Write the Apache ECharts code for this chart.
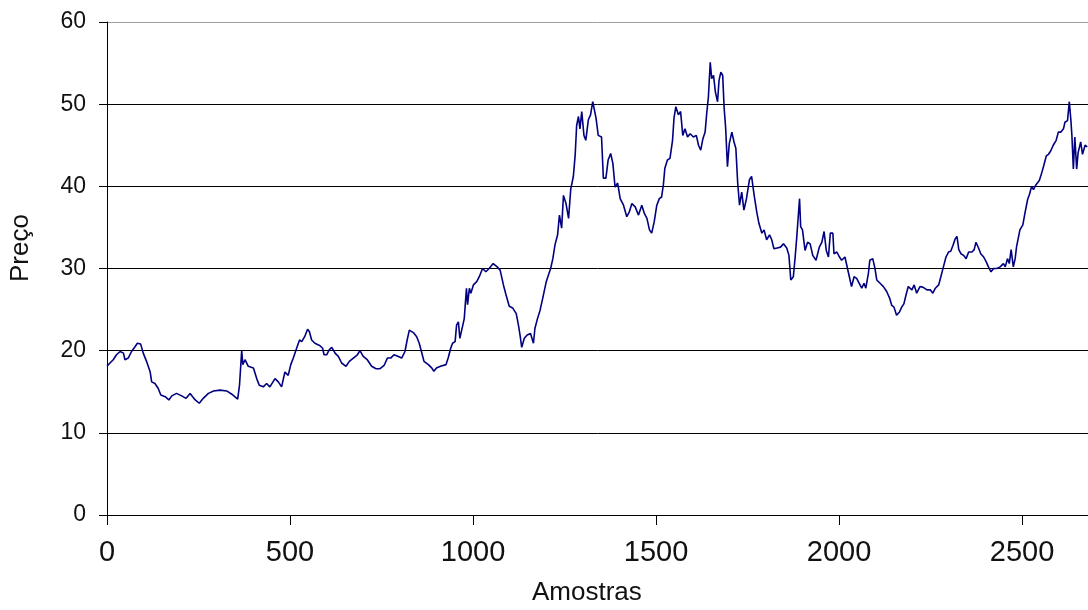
<!DOCTYPE html>
<html>
<head>
<meta charset="utf-8">
<script src="https://cdn.jsdelivr.net/npm/echarts@6/dist/echarts.min.js"></script>
<style>
html,body{margin:0;padding:0;background:#fff;}
#chart{width:1088px;height:610px;}
</style>
</head>
<body>
<div id="chart"></div>
<script>
// Sample index (x) and price (y)
const samples = [0,8,17,26,36,45,49,58,67,77,83,92,99,108,118,122,131,140,147,159,169,177,190,204,216,227,241,252,263,277,291,309,327,341,357,362,368,371,377,386,400,409,416,427,436,
445,459,468,477,486,495,502,509,518,526,532,540,548,553,559,568,582,589,593,600,607,614,623,632,641,653,662,673,684,691,700,711,723,735,746,757,766,775,784,796,805,814,820,826,837,846,853,859,866,878,887,893,900,911,
926,932,939,944,951,955,960,964,969,976,982,985,990,994,1001,1010,1017,1026,1035,1044,1055,1066,1074,1083,1090,1099,1108,1118,1124,1129,1133,1140,1148,1157,1165,1169,1176,1183,1190,1200,1206,1212,1218,1224,1231,1236,1242,1247,1254,1261,1267,1274,1279,1283,1288,1292,1297,1303,1308,1315,1321,1327,1330,1336,1342,1351,1356,1363,1369,1376,
1382,1388,1395,1402,1411,1420,1427,1434,1443,1452,1461,1468,1475,1482,1488,1495,1502,1509,1515,1520,1524,1531,1538,1545,1549,1554,1561,1567,1573,1579,1586,1593,1602,1610,1616,1622,1628,1634,1638,1643,1648,1652,1657,1662,1668,1672,1677,1682,1686,1690,1695,1700,1707,1713,1718,1723,1728,1734,1740,1747,1755,1761,1768,1775,1781,1789,1795,1802,1810,1816,1822,1831,
1840,1848,1857,1863,1868,1875,1880,1884,1889,1892,1895,1900,1907,1914,1921,1928,1937,1946,1953,1959,1965,1971,1976,1983,1986,1994,2001,2007,2016,2023,2028,2034,2041,2048,2055,2062,2068,2073,2080,2084,2092,2098,2103,2112,2121,2130,2138,2144,2150,2157,2165,2171,2177,2183,2189,2199,2205,2212,2221,2230,2240,2249,2256,2263,2272,2278,2285,2292,2299,
2305,2311,2317,2322,2327,2333,2340,2347,2354,2363,2369,2374,2381,2387,2395,2402,2408,2415,2422,2431,2440,2449,2454,2460,2465,2470,2476,2481,2485,2490,2494,2502,2508,2515,2520,2526,2531,2538,2547,2554,2559,2566,2572,2578,2585,2593,2599,2606,2613,2617,2624,2629,2633,2636,2640,2644,2649,2653,2660,2665,2672,2678];

const prices = [18.1,18.5,18.9,19.5,19.9,19.7,18.9,19.1,19.9,20.5,20.9,20.8,19.7,18.7,17.4,16.2,16.0,15.4,14.6,14.4,14.0,14.5,14.8,14.5,14.2,14.8,14.0,13.6,14.2,14.8,15.1,15.2,15.1,14.7,14.1,15.8,20.0,18.3,18.9,18.1,17.9,16.6,15.8,15.6,16.0,
15.6,16.6,16.2,15.6,17.4,17.0,18.3,19.1,20.3,21.3,21.1,21.7,22.6,22.3,21.3,20.9,20.6,20.3,19.5,19.5,20.1,20.4,19.7,19.3,18.5,18.1,18.7,19.1,19.5,20.0,19.3,18.9,18.1,17.8,17.8,18.2,19.1,19.1,19.5,19.3,19.1,19.9,21.3,22.5,22.2,21.7,20.9,19.9,18.7,18.3,17.9,17.5,17.9,18.1,
18.3,19.1,20.3,20.9,21.1,23.1,23.5,21.5,21.3,23.9,27.6,25.6,27.6,27.0,28.0,28.4,29.0,30.0,29.6,30.0,30.6,30.2,29.8,28.0,26.8,25.4,25.2,24.5,23.1,21.7,20.4,21.5,21.9,22.1,20.9,22.7,23.9,24.9,26.3,28.4,29.2,30.0,31.2,32.9,34.1,36.5,34.9,38.9,37.9,36.1,39.7,41.2,43.8,47.4,48.5,47.0,49.1,46.2,45.6,48.1,48.7,50.3,50.4,48.3,46.2,46.0,41.0,41.0,43.2,44.0,
42.8,39.9,40.4,38.5,37.7,36.3,36.9,37.9,37.5,36.5,37.7,36.7,36.1,34.7,34.3,35.7,37.7,38.5,38.7,40.2,42.2,43.2,43.4,45.6,48.3,49.7,48.7,49.1,46.2,47.0,46.0,46.4,46.0,46.2,45.0,44.4,45.8,46.6,48.7,50.9,55.1,53.1,53.5,51.5,50.3,52.9,53.9,53.5,49.5,47.2,42.4,45.2,46.6,45.4,44.6,40.4,37.7,39.3,37.1,38.5,40.8,41.2,38.9,36.9,35.5,34.3,34.7,33.5,34.1,33.5,32.4,32.5,
32.6,33.0,32.5,31.6,28.6,29.0,31.4,33.6,36.7,38.5,35.1,34.7,32.2,33.2,33.0,31.6,31.0,32.6,33.2,34.5,32.2,31.4,34.3,34.3,31.8,32.0,31.4,31.0,31.4,30.0,29.0,27.8,29.0,28.8,28.2,27.6,28.2,27.6,29.4,31.0,31.2,30.0,28.6,28.2,27.8,27.2,26.4,25.5,25.3,24.3,24.7,25.3,25.7,26.8,27.8,27.4,28.0,27.0,27.8,27.7,27.4,27.4,27.0,27.6,28.0,29.0,30.2,31.4,32.0,
32.1,32.8,33.6,33.9,32.3,31.8,31.6,31.2,32.0,32.0,32.3,33.2,32.5,31.8,31.4,30.8,30.2,29.6,30.0,30.0,30.2,30.6,30.2,31.2,30.6,32.3,30.2,31.2,32.7,32.7,34.7,35.3,36.8,38.4,39.0,40.0,39.6,40.2,40.7,41.7,42.5,43.7,43.9,44.3,45.0,45.6,46.6,46.6,47.0,47.8,48.0,50.3,48.2,46.2,42.1,46.0,42.1,44.1,45.4,43.9,45.0,44.8];

const xTicks = [0,500,1000,1500,2000,2500];
const yTicks = [0,10,20,30,40,50,60];
const xTitle = 'Amostras';
const yTitle = 'Preço';

const seriesData = samples.map((s, i) => [s, prices[i]]);
const FONT = '"Liberation Sans", Arial, sans-serif';

const chart = echarts.init(document.getElementById('chart'), null, {renderer: 'canvas'});
chart.setOption({
  animation: false,
  backgroundColor: '#ffffff',
  grid: {left: 107, right: 0, top: 22, bottom: 95, containLabel: false},
  xAxis: {
    type: 'value',
    min: 0, max: 2680, interval: 500,
    axisLine: {show: true, lineStyle: {color: '#000', width: 1}},
    axisTick: {show: true, length: 10, lineStyle: {color: '#000'}, customValues: xTicks},
    axisLabel: {color: '#111', fontSize: 29, fontFamily: FONT, margin: 23, customValues: xTicks,
                formatter: v => String(v)},
    splitLine: {show: false}
  },
  yAxis: {
    type: 'value',
    min: 0, max: 60, interval: 10,
    axisLine: {show: true, lineStyle: {color: '#000', width: 1}},
    axisTick: {show: true, length: 8, lineStyle: {color: '#000'}, customValues: yTicks},
    axisLabel: {color: '#111', fontSize: 23, fontFamily: FONT, margin: 21, customValues: yTicks,
                formatter: v => String(v)},
    splitLine: {show: true, lineStyle: {color: ['#000','#000','#000','#000','#000','#000','#a0a0a0'], width: 1}}
  },
  graphic: [
    {type: 'text', x: 532, y: 580, style: {text: xTitle, fontSize: 26, fontFamily: FONT, fill: '#111'}},
    {type: 'text', rotation: Math.PI/2, x: 8, y: 282, style: {text: yTitle, fontSize: 26, fontFamily: FONT, fill: '#111'}}
  ],
  series: [{
    type: 'line',
    data: seriesData,
    showSymbol: false,
    symbol: 'none',
    lineStyle: {color: '#000080', width: 1.6},
    silent: true
  }]
});
</script>
</body>
</html>
